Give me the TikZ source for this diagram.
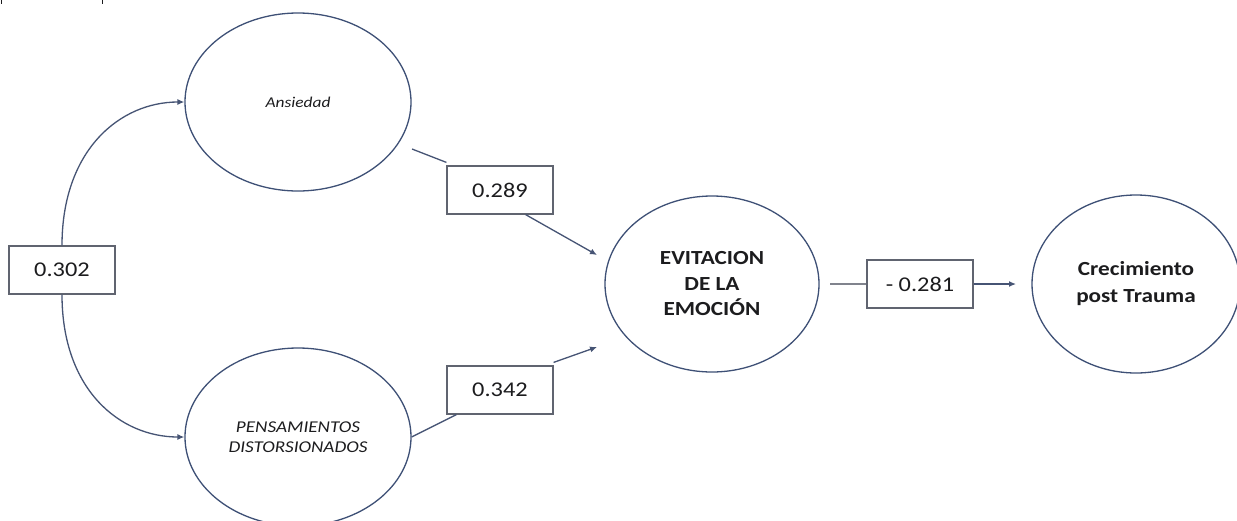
\documentclass[tikz,border=0pt]{standalone}
\usepackage{fontspec}
\setmainfont{Carlito}
\newfontfamily\wide[FakeStretch=1.16]{Carlito}
\usetikzlibrary{shapes.geometric,arrows.meta}
\definecolor{rim}{RGB}{62,80,118}
\definecolor{wire}{RGB}{70,84,116}
\definecolor{boxrim}{RGB}{96,100,112}
\definecolor{ink}{RGB}{28,28,30}
\begin{document}
\begin{tikzpicture}[x=1pt,y=-1pt,
  latent/.style={draw=rim,line width=1.3pt,ellipse,inner sep=0pt,
    minimum width=#1,minimum height=178pt,align=center,text=ink},
  latent/.default=226pt,
  coef/.style={draw=boxrim,line width=1.2pt,fill=white,minimum width=106pt,
    minimum height=48pt,inner sep=0pt,text=ink,
    font=\wide\fontsize{21}{24}\selectfont},
  path/.style={draw=wire,line width=1.3pt},
  tip/.style={-{Latex[length=7pt,width=6pt]}}]
\useasboundingbox (0,0) rectangle (1237,520);
\fill[white] (0,0) rectangle (1237,520);

% stray marks along the top edge
\draw[ink,line width=1.5pt] (1.5,0) -- (1.5,4);
\draw[ink,line width=1.5pt] (102.5,0) -- (102.5,4);

% latent variables
\node[latent,font=\wide\itshape\fontsize{15}{18}\selectfont] (ans) at (298,102) {Ansiedad};
\node[latent,font=\wide\itshape\fontsize{16.5}{20}\selectfont] (pen) at (298,437)
  {PENSAMIENTOS\\DISTORSIONADOS};
\node[latent=214pt,minimum height=176pt,font=\wide\bfseries\fontsize{20}{25.5}\selectfont]
  (evi) at (712,284) {EVITACION\\DE LA\\EMOCIÓN};
\node[latent=208pt,minimum height=178pt,font=\wide\bfseries\fontsize{20}{27}\selectfont]
  (cre) at (1136,284) {Crecimiento\\post Trauma};

% coefficient boxes
\node[coef] (c302) at (62,270) {0.302};
\node[coef] (c289) at (500,190) {0.289};
\node[coef] (c342) at (500,390) {0.342};
\node[coef] (c281) at (920,284) {- 0.281};

% free ends of the connectors
\coordinate (a1) at (412,149);
\coordinate (t1) at (597,255);
\coordinate (t2) at (597,347);
\coordinate (e1) at (830,284);
\coordinate (t3) at (1016,284);

% correlation between the two predictors
\draw[path,tip] (c302.north) .. controls (62,150) and (120,102) .. (ans.west);
\draw[path,tip] (c302.south) .. controls (62,390) and (120,437) .. (pen.west);

% paths into the mediator
\draw[path] (a1) -- ([yshift=3pt]c289.north west);
\draw[path,tip] ([xshift=-28pt]c289.south east) -- (t1);
\draw[path] (pen.east) -- ([xshift=10pt]c342.south west);
\draw[path,tip] ([yshift=3pt]c342.north east) -- (t2);

% path into the outcome
\draw[draw=boxrim!80,line width=1.5pt] (e1) -- (c281.west);
\draw[path,tip] (c281.east) -- (t3);
\end{tikzpicture}
\end{document}
